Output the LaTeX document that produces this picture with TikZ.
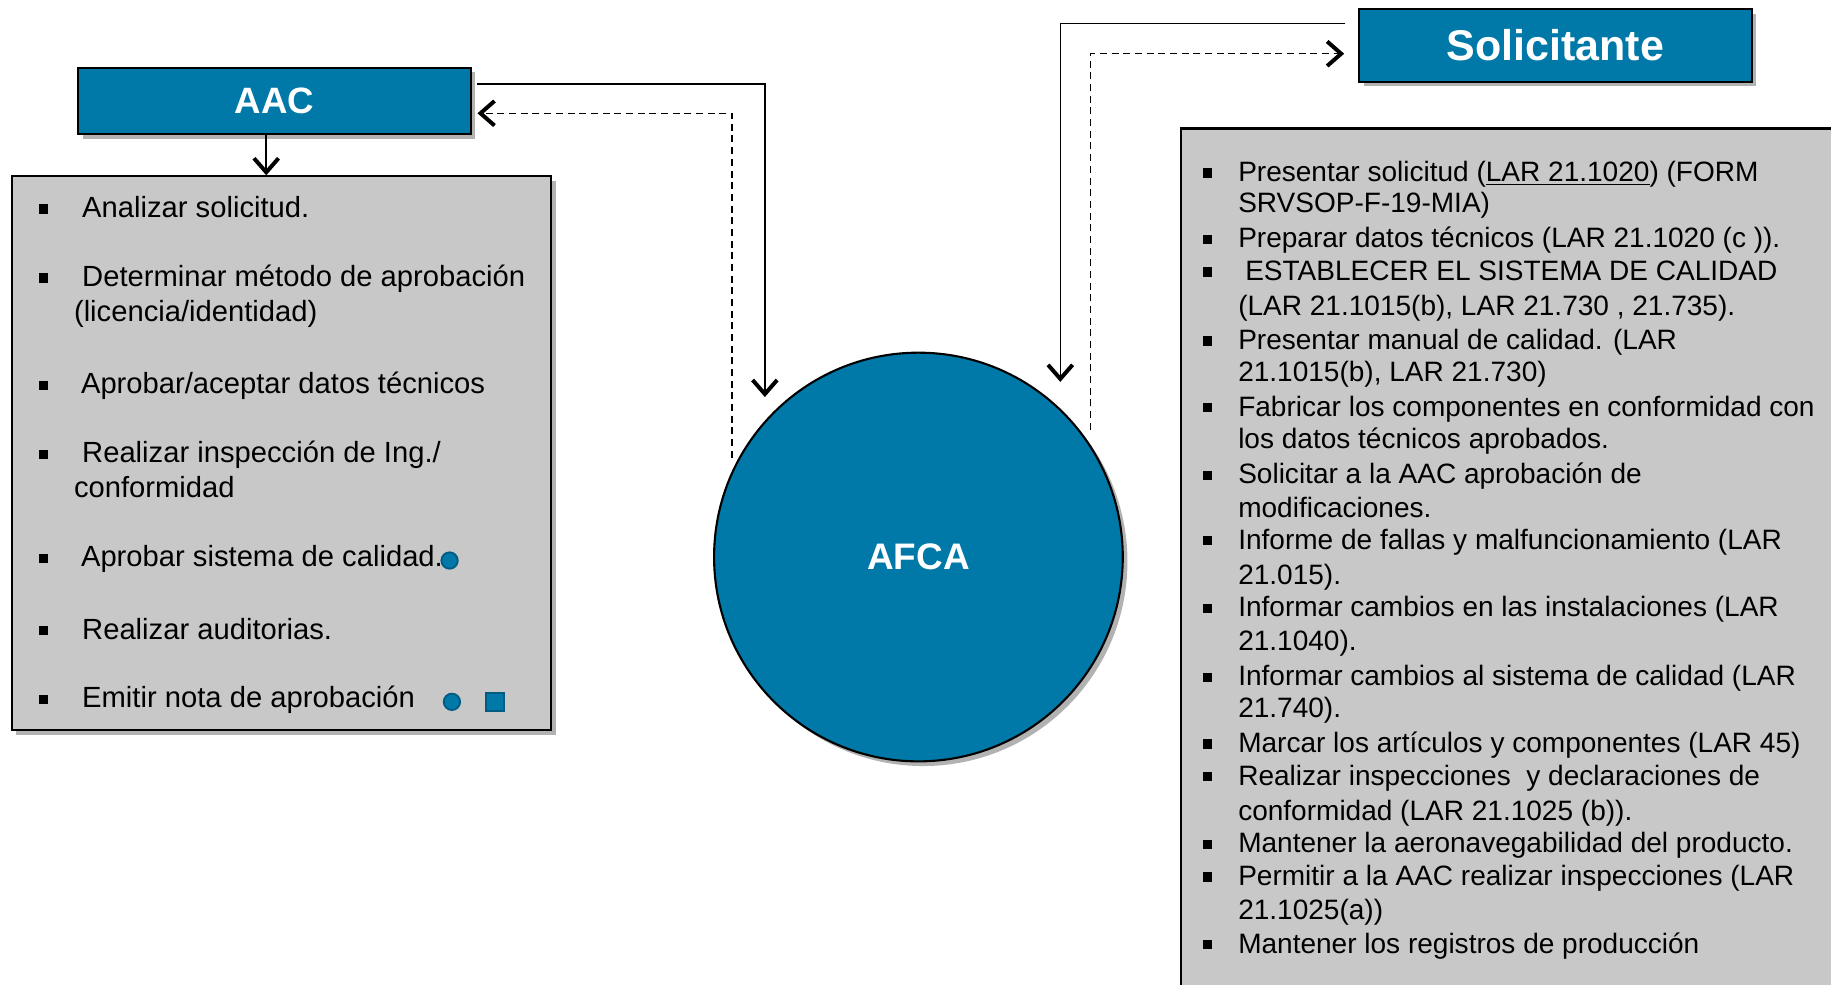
\documentclass[tikz,border=0pt]{standalone}
\usepackage{fontspec}
\setmainfont{Liberation Sans}
\usetikzlibrary{arrows.meta,shadows}
\definecolor{afblue}{RGB}{0,121,168}
\definecolor{afbluedk}{RGB}{0,92,130}
\definecolor{boxgray}{RGB}{200,200,200}
\begin{document}
\begin{tikzpicture}[x=0.5pt,y=-0.5pt,
  shadowed/.style={drop shadow={shadow xshift=2pt,shadow yshift=-2pt,opacity=0.3,fill=black}},
  bluebox/.style={draw=black,line width=0.9pt,fill=afblue,text=white,inner sep=0pt,shadowed},
  graybox/.style={draw=black,line width=0.9pt,fill=boxgray,inner sep=0pt,shadowed},
  ltext/.style={anchor=mid west,inner sep=0pt,font=\fontsize{12.5}{15}\selectfont},
  rtext/.style={anchor=mid west,inner sep=0pt,font=\fontsize{12}{14}\selectfont},
  conn/.style={draw=black,line width=0.65pt,-{Straight Barb[length=6pt,width=10.5pt,line width=1.7pt]}},
  dconn/.style={conn,dash pattern=on 3pt off 2pt},
  marker/.style={fill=afblue,draw=afbluedk,line width=0.8pt,inner sep=0pt,minimum size=7pt}
]
\useasboundingbox (0,0) rectangle (1568,843);
\fill[white] (0,0) rectangle (1568,843);

% boxes
\node[bluebox,minimum width=168pt,minimum height=28.5pt,font=\fontsize{15.7}{18}\selectfont\bfseries] (aac) at (235,86.5) {AAC};
\node[graybox,minimum width=231pt,minimum height=237pt] (lbox) at (241,388) {};
\node[bluebox,minimum width=168pt,minimum height=31pt,font=\fontsize{18.4}{20}\selectfont\bfseries] (sol) at (1332,39) {Solicitante};
\begin{scope}
\clip (0,0) rectangle (1568,843);
\node[graybox,minimum width=294.5pt,minimum height=385pt] (rbox) at (1305.5,495) {};
\end{scope}
\node[circle,draw=black,line width=0.9pt,fill=afblue,minimum size=175pt,inner sep=0pt,text=white,font=\fontsize{15.8}{18}\selectfont\bfseries,shadowed] (afca) at (786.5,477) {AFCA};

% left list
\begin{scope}[yshift=-1.5pt]
\node[ltext] (l1) at (70,178) {Analizar solicitud.};
\node[ltext] (l2) at (70,237) {Determinar método de aprobación};
\node[ltext] (l3) at (63,267) {(licencia/identidad)};
\node[ltext] (l4) at (69,329) {Aprobar/aceptar datos técnicos};
\node[ltext] (l5) at (70,388) {Realizar inspección de Ing./};
\node[ltext] (l6) at (63,418) {conformidad};
\node[ltext] (l7) at (69,477) {Aprobar sistema de calidad.};
\node[ltext] (l8) at (70,539) {Realizar auditorias.};
\node[ltext] (l9) at (70,598) {Emitir nota de aprobación};
\end{scope}
\foreach \yy in {178,237,329,388,477,539,598} \fill (33,\yy-3) rectangle (41,\yy+5);
\node[marker,circle] (m1) at (385,480) {};
\node[marker,circle] (m2) at (387,601) {};
\node[marker,rectangle,minimum size=7.5pt] (m3) at (424,601) {};

% right list
\begin{scope}[yshift=-1.5pt]
\node[rtext] (r1) at (1060,147) {Presentar solicitud (\underline{LAR 21.1020}) (FORM};
\node[rtext] (r2) at (1060,174) {SRVSOP-F-19-MIA)};
\node[rtext] (r3) at (1060,204) {Preparar datos técnicos (LAR 21.1020 (c )).};
\node[rtext] (r4) at (1066,232) {ESTABLECER EL SISTEMA DE CALIDAD};
\node[rtext] (r5) at (1060,262) {(LAR 21.1015(b), LAR 21.730 , 21.735).};
\node[rtext] (r6) at (1060,291) {Presentar manual de calidad. (LAR};
\node[rtext] (r7) at (1060,318) {21.1015(b), LAR 21.730)};
\node[rtext] (r8) at (1060,348) {Fabricar los componentes en conformidad con};
\node[rtext] (r9) at (1060,376) {los datos técnicos aprobados.};
\node[rtext] (r10) at (1060,406) {Solicitar a la AAC aprobación de};
\node[rtext] (r11) at (1060,435) {modificaciones.};
\node[rtext] (r12) at (1060,462) {Informe de fallas y malfuncionamiento (LAR};
\node[rtext] (r13) at (1060,492) {21.015).};
\node[rtext] (r14) at (1060,520) {Informar cambios en las instalaciones (LAR};
\node[rtext] (r15) at (1060,549) {21.1040).};
\node[rtext] (r16) at (1060,579) {Informar cambios al sistema de calidad (LAR};
\node[rtext] (r17) at (1060,606) {21.740).};
\node[rtext] (r18) at (1060,636) {Marcar los artículos y componentes (LAR 45)};
\node[rtext] (r19) at (1060,664) {Realizar inspecciones~ y declaraciones de};
\node[rtext] (r20) at (1060,694) {conformidad (LAR 21.1025 (b)).};
\node[rtext] (r21) at (1060,722) {Mantener la aeronavegabilidad del producto.};
\node[rtext] (r22) at (1060,750) {Permitir a la AAC realizar inspecciones (LAR};
\node[rtext] (r23) at (1060,779) {21.1025(a))};
\node[rtext] (r24) at (1060,808) {Mantener los registros de producción};
\end{scope}
\foreach \yy in {147,204,232,291,348,406,462,520,579,636,664,722,750,808} \fill (1030,\yy-3) rectangle (1038,\yy+5);

% connectors
\coordinate (aIn) at (655,340);
\coordinate (aOut) at (627,392);
\coordinate (sIn) at (908,327);
\coordinate (sOut) at (934,368);
\draw[conn] ([xshift=2.5pt,yshift=7.25pt]aac.east) -| (aIn);
\draw[dconn] (aOut) |- ([xshift=2.5pt,yshift=-5.25pt]aac.east);
\draw[conn] ([xshift=-5.5pt,yshift=9.5pt]sol.west) -| (sIn);
\draw[dconn] (sOut) |- ([xshift=-6pt,yshift=-3.5pt]sol.west);
\draw[conn] ([xshift=-3.5pt]aac.south) -- ([xshift=-3.5pt]aac.south |- lbox.north);
\end{tikzpicture}
\end{document}
